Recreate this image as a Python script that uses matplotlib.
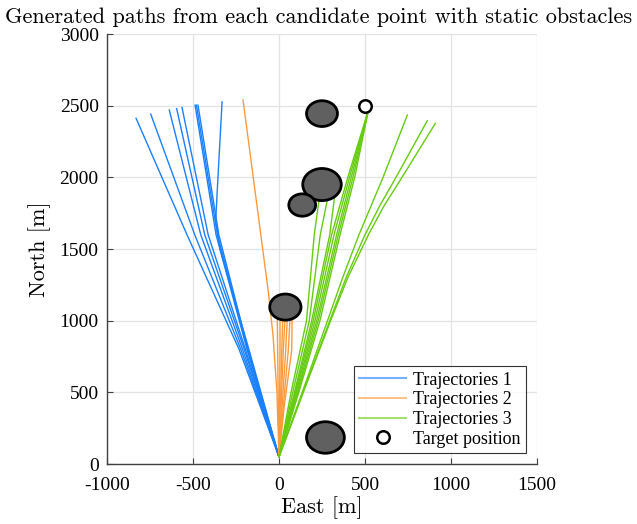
import matplotlib

matplotlib.use("Agg")
import matplotlib.pyplot as plt
from matplotlib.patches import Ellipse

# Paths, each as (x list, y list) in metres
traj1 = [
    ([0, -232, -535, -831], [50, 800, 1600, 2412]),
    ([0, -222, -490, -746], [50, 800, 1600, 2442]),
    ([0, -212, -455, -638], [50, 800, 1600, 2470]),
    ([0, -202, -432, -595], [50, 800, 1600, 2479]),
    ([0, -195, -412, -564], [50, 800, 1600, 2488]),
    ([0, -186, -366, -488], [50, 800, 1600, 2504]),
    ([0, -183, -358, -480], [50, 800, 1600, 2504]),
    ([0, -180, -350, -471], [50, 800, 1600, 2504]),
    ([0, -175, -343, -368, -355, -331], [50, 800, 1500, 1700, 2000, 2527]),
]
traj2 = [
    ([0, -12, -35, -62, -209], [50, 500, 900, 1200, 2540]),
    ([0, -4, -8, -10], [50, 400, 795, 1016]),
    ([0, 3, 6, 6], [50, 400, 795, 1016]),
    ([0, 8, 16, 22], [50, 400, 795, 1016]),
    ([0, 12, 25, 35], [50, 400, 795, 1016]),
    ([0, 18, 39, 48], [50, 400, 795, 1016]),
    ([0, 25, 54, 64], [50, 400, 795, 1016]),
    ([0, 30, 74, 76], [50, 400, 795, 1016]),
]
traj3 = [
    ([0, 70, 160, 205, 234], [50, 500, 1000, 1600, 1854]),
    ([0, 80, 176, 240, 283], [50, 500, 1000, 1600, 1854]),
    ([0, 90, 190, 295, 322], [50, 500, 1000, 1600, 1854]),
    ([0, 95, 199, 306, 400, 520], [50, 500, 1000, 1600, 2000, 2470]),
    ([0, 100, 209, 320, 410, 520], [50, 500, 1000, 1600, 2000, 2470]),
    ([0, 105, 219, 335, 420, 520], [50, 500, 1000, 1600, 2000, 2470]),
    ([0, 110, 228, 345, 430, 520], [50, 500, 1000, 1600, 2000, 2470]),
    ([0, 115, 238, 355, 440, 520], [50, 500, 1000, 1600, 2000, 2470]),
    ([0, 135, 282, 370, 465, 535, 605, 746], [50, 500, 1000, 1300, 1600, 1800, 2000, 2435]),
    ([0, 140, 295, 390, 500, 585, 680, 862], [50, 500, 1000, 1300, 1600, 1800, 2000, 2395]),
    ([0, 141, 300, 400, 520, 610, 715, 909], [50, 500, 1000, 1300, 1600, 1800, 2000, 2377]),
]

obstacle_x = [250, 250, 135, 37, 270]
obstacle_y = [2445, 1950, 1807, 1095, 185]
obstacle_r = [90, 112, 78, 91, 110]

target = (500, 2500)

x_ticks = [-1000, -500, 0, 500, 1000, 1500]
y_ticks = [0, 500, 1000, 1500, 2000, 2500, 3000]

C1 = "#1a80ff"
C2 = "#ff9a3c"
C3 = "#66cc11"
SERIF = ["Liberation Serif", "DejaVu Serif"]
CM = ["cmr10", "DejaVu Serif"]

fig = plt.figure(figsize=(6.37, 5.24), dpi=100)
ax = fig.add_axes([0.168, 0.1145, 0.675, 0.8205])

for i, (xs, ys) in enumerate(traj1):
    ax.plot(xs, ys, color=C1, lw=1.0, label="Trajectories 1" if i == 0 else None)
for i, (xs, ys) in enumerate(traj2):
    ax.plot(xs, ys, color=C2, lw=1.0, label="Trajectories 2" if i == 0 else None)
for i, (xs, ys) in enumerate(traj3):
    ax.plot(xs, ys, color=C3, lw=1.0, label="Trajectories 3" if i == 0 else None)

for cx, cy, r in zip(obstacle_x, obstacle_y, obstacle_r):
    ax.add_patch(Ellipse((cx, cy), 2 * r, 2 * r, facecolor="#606060",
                         edgecolor="black", lw=2.0, zorder=5))

ax.plot([target[0]], [target[1]], "o", ms=9, mfc="white", mec="black",
        mew=1.8, ls="none", zorder=6, label="Target position")

ax.set_xlim(-1000, 1500)
ax.set_ylim(0, 3000)
ax.set_xticks(x_ticks)
ax.set_xticklabels([str(v) for v in x_ticks], family=SERIF, fontsize=14)
ax.set_yticks(y_ticks)
ax.set_yticklabels([str(v) for v in y_ticks], family=SERIF, fontsize=14)
ax.tick_params(direction="in", length=4, color="#404040")
ax.tick_params(axis="x", pad=9)
ax.tick_params(axis="y", pad=6)
ax.grid(True, color="#e3e3e3", lw=0.9)
ax.set_axisbelow(True)
for side in ("top", "right"):
    ax.spines[side].set_visible(False)
for side in ("left", "bottom"):
    ax.spines[side].set_color("#404040")
    ax.spines[side].set_linewidth(1.0)

ax.set_xlabel("East [m]", family=CM, fontsize=16, labelpad=2)
ax.set_ylabel("North [m]", family=CM, fontsize=16, labelpad=6)
fig.text(0.5, 0.967, "Generated paths from each candidate point with static obstacles",
         ha="center", va="center", family=CM, fontsize=16)

leg = ax.legend(loc="lower right", prop={"family": SERIF, "size": 13},
                frameon=True, fancybox=False, edgecolor="black",
                borderpad=0.3, handlelength=2.6, labelspacing=0.15,
                handletextpad=0.4, borderaxespad=0.6)
leg.get_frame().set_linewidth(0.8)
for h in leg.legend_handles[:3]:
    h.set_alpha(0.6)
    h.set_linewidth(1.5)

fig.savefig("out.png", dpi=100)
